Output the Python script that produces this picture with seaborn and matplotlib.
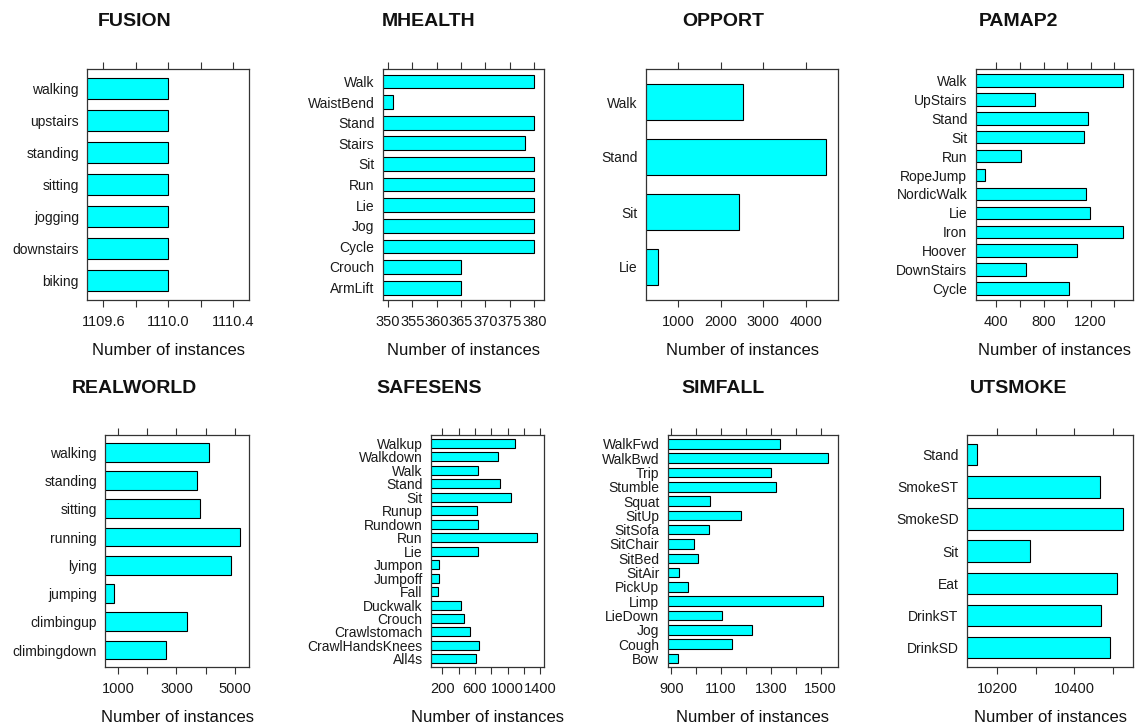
import matplotlib
matplotlib.use("Agg")
import matplotlib.pyplot as plt
import seaborn as sns
import pandas as pd

sns.set_style("white")
plt.rcParams["font.family"] = ["Liberation Sans", "DejaVu Sans"]

# ---- activity counts per dataset (listed top to bottom as drawn) ----
fusion_labels = ["walking", "upstairs", "standing", "sitting", "jogging", "downstairs", "biking"]
fusion_counts = [1110, 1110, 1110, 1110, 1110, 1110, 1110]
fusion_ticks = [1109.6, 1109.8, 1110.0, 1110.2, 1110.4]
fusion_ticklabels = ["1109.6", "", "1110.0", "", "1110.4"]

mhealth_labels = ["Walk", "WaistBend", "Stand", "Stairs", "Sit", "Run", "Lie", "Jog",
                  "Cycle", "Crouch", "ArmLift"]
mhealth_counts = [380, 351, 380, 378, 380, 380, 380, 380, 380, 365, 365]
mhealth_ticks = [350, 355, 360, 365, 370, 375, 380]
mhealth_ticklabels = ["350", "355", "360", "365", "370", "375", "380"]

opport_labels = ["Walk", "Stand", "Sit", "Lie"]
opport_counts = [2513, 4484, 2426, 517]
opport_ticks = [1000, 2000, 3000, 4000]
opport_ticklabels = ["1000", "2000", "3000", "4000"]

pamap2_labels = ["Walk", "UpStairs", "Stand", "Sit", "Run", "RopeJump", "NordicWalk",
                 "Lie", "Iron", "Hoover", "DownStairs", "Cycle"]
pamap2_counts = [1477, 729, 1174, 1146, 609, 306, 1163, 1191, 1477, 1086, 649, 1018]
pamap2_ticks = [400, 600, 800, 1000, 1200, 1400]
pamap2_ticklabels = ["400", "", "800", "", "1200", ""]

realworld_labels = ["walking", "standing", "sitting", "running", "lying", "jumping",
                    "climbingup", "climbingdown"]
realworld_counts = [4120, 3708, 3823, 5195, 4874, 863, 3365, 2635]
realworld_ticks = [1000, 2000, 3000, 4000, 5000]
realworld_ticklabels = ["1000", "", "3000", "", "5000"]

safesens_labels = ["Walkup", "Walkdown", "Walk", "Stand", "Sit", "Runup", "Rundown", "Run",
                   "Lie", "Jumpon", "Jumpoff", "Fall", "Duckwalk", "Crouch", "Crawlstomach",
                   "CrawlHandsKnees", "All4s"]
safesens_counts = [1086, 882, 633, 906, 1037, 621, 641, 1363, 633, 163, 155, 147, 433,
                   469, 535, 645, 612]
safesens_ticks = [200, 400, 600, 800, 1000, 1200, 1400]
safesens_ticklabels = ["200", "", "600", "", "1000", "", "1400"]

simfall_labels = ["WalkFwd", "WalkBwd", "Trip", "Stumble", "Squat", "SitUp", "SitSofa",
                  "SitChair", "SitBed", "SitAir", "PickUp", "Limp", "LieDown", "Jog",
                  "Cough", "Bow"]
simfall_counts = [1338, 1529, 1300, 1321, 1057, 1182, 1050, 992, 1007, 933, 967, 1510,
                  1103, 1226, 1143, 928]
simfall_ticks = [900, 1000, 1100, 1200, 1300, 1400, 1500]
simfall_ticklabels = ["900", "", "1100", "", "1300", "", "1500"]

utsmoke_labels = ["Stand", "SmokeST", "SmokeSD", "Sit", "Eat", "DrinkST", "DrinkSD"]
utsmoke_counts = [10149, 10467, 10526, 10286, 10511, 10470, 10492]
utsmoke_ticks = [10200, 10300, 10400, 10500]
utsmoke_ticklabels = ["10200", "", "10400", ""]

panels = [
    ("FUSION", fusion_labels, fusion_counts, fusion_ticks, fusion_ticklabels),
    ("MHEALTH", mhealth_labels, mhealth_counts, mhealth_ticks, mhealth_ticklabels),
    ("OPPORT", opport_labels, opport_counts, opport_ticks, opport_ticklabels),
    ("PAMAP2", pamap2_labels, pamap2_counts, pamap2_ticks, pamap2_ticklabels),
    ("REALWORLD", realworld_labels, realworld_counts, realworld_ticks, realworld_ticklabels),
    ("SAFESENS", safesens_labels, safesens_counts, safesens_ticks, safesens_ticklabels),
    ("SIMFALL", simfall_labels, simfall_counts, simfall_ticks, simfall_ticklabels),
    ("UTSMOKE", utsmoke_labels, utsmoke_counts, utsmoke_ticks, utsmoke_ticklabels),
]

# ---- layout (pixel boxes: left, right, top, bottom) ----
W, H = 1135, 727
boxes = [
    (87.3, 249.3, 69, 300), (382.7, 544.3, 69, 300),
    (646, 838.3, 69, 300), (975.7, 1133, 69, 300),
    (105.3, 249.3, 435.3, 667), (431, 544.3, 435.3, 667),
    (667.7, 838.3, 435.3, 667), (967, 1133, 435.3, 667),
]
title_x = [134.5, 429, 723.3, 1018.3]
title_y = [21.7, 388.3]

fig = plt.figure(figsize=(W / 100, H / 100), dpi=100)
edge = "#333333"

for i, ((title, labels, counts, ticks, ticklabels), (x0, x1, y0, y1)) in enumerate(zip(panels, boxes)):
    ax = fig.add_axes([x0 / W, 1 - y1 / H, (x1 - x0) / W, (y1 - y0) / H])
    df = pd.DataFrame({"activity": labels, "count": counts})
    sns.barplot(data=df, x="count", y="activity", order=labels, orient="h",
                color="#00FFFF", saturation=1, edgecolor="black", linewidth=0.8,
                width=2 / 3, errorbar=None, ax=ax)

    # numeric range padded by 7% on each side; bars start at the left edge
    lo, hi = min(counts), max(counts)
    span = hi - lo
    pad = 0.07 * span if span > 0 else 0.5
    ax.set_xlim(lo - pad, hi + pad)
    n = len(labels)
    ax.set_ylim(n - 0.4, -0.6)

    ax.set_xticks(ticks)
    ax.set_xticklabels(ticklabels)
    ax.tick_params(axis="x", which="major", bottom=True, top=True, direction="out",
                   length=5, width=0.8, color=edge, labelsize=10.5, pad=6,
                   labelcolor="#1a1a1a")
    ax.tick_params(axis="y", length=0, labelsize=10, pad=6, labelcolor="#1a1a1a")
    for s in ax.spines.values():
        s.set_visible(True)
        s.set_color(edge)
        s.set_linewidth(0.9)

    ax.set_ylabel("")
    ax.set_xlabel("Number of instances", fontsize=12, labelpad=10, color="#111111")

    row, col = divmod(i, 4)
    fig.text(title_x[col] / W, 1 - title_y[row] / H, title, ha="center", va="center",
             fontsize=14, fontweight="bold", color="#111111")

fig.savefig("out.png", dpi=100, facecolor="white")
